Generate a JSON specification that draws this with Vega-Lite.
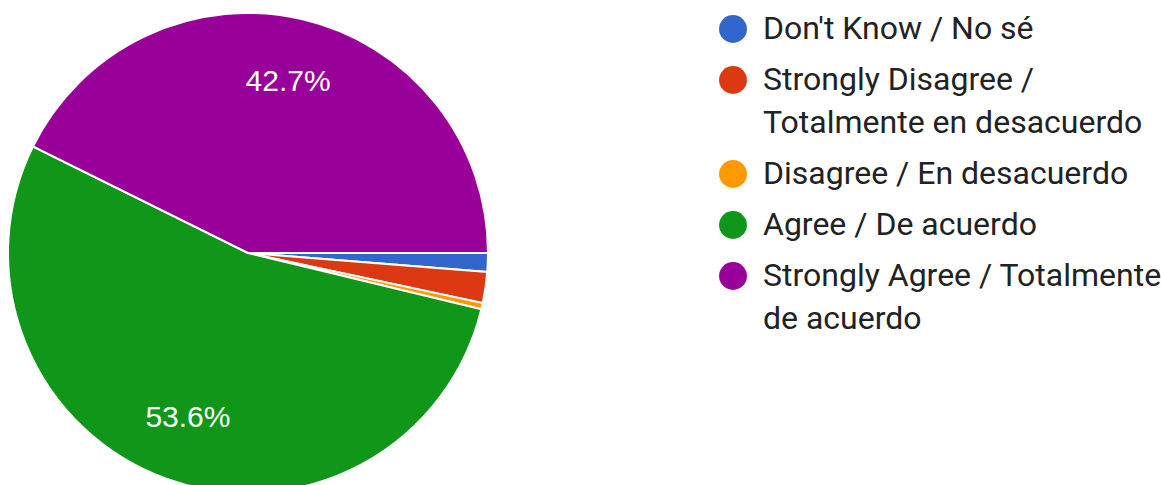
{
  "$schema": "https://vega.github.io/schema/vega-lite/v6.json",
  "width": 496,
  "height": 506,
  "padding": 0,
  "background": "white",
  "autosize": {"type": "pad"},
  "data": {
    "values": [
      {"answer": "Don't Know / No sé", "count": 3, "idx": 0},
      {"answer": "Strongly Disagree / Totalmente en desacuerdo", "count": 5, "idx": 1},
      {"answer": "Disagree / En desacuerdo", "count": 1, "idx": 2},
      {"answer": "Agree / De acuerdo", "count": 128, "idx": 3},
      {"answer": "Strongly Agree / Totalmente de acuerdo", "count": 102, "idx": 4}
    ]
  },
  "transform": [
    {"joinaggregate": [{"op": "sum", "field": "count", "as": "total"}]},
    {"calculate": "datum.count / datum.total >= 0.05 ? format(datum.count / datum.total, '.1%') : ''", "as": "label"}
  ],
  "encoding": {
    "theta": {"field": "count", "type": "quantitative", "stack": true, "scale": {"range": [1.5707963, 7.8539816]}},
    "order": {"field": "idx", "type": "quantitative"}
  },
  "layer": [
    {
      "mark": {"type": "arc", "radius": 240, "stroke": "white", "strokeWidth": 2},
      "encoding": {
        "color": {
          "field": "answer",
          "type": "nominal",
          "scale": {
            "domain": ["Don't Know / No sé", "Strongly Disagree / Totalmente en desacuerdo", "Disagree / En desacuerdo", "Agree / De acuerdo", "Strongly Agree / Totalmente de acuerdo"],
            "range": ["#3366cc", "#dc3912", "#ff9900", "#109618", "#990099"]
          },
          "legend": {
            "title": null,
            "orient": "none",
            "legendX": 717,
            "legendY": 13,
            "padding": 0,
            "symbolType": "circle",
            "symbolSize": 780,
            "symbolStrokeWidth": 0,
            "labelFont": "Roboto",
            "labelFontSize": 32,
            "labelColor": "#222222",
            "labelOffset": 14,
            "labelLimit": 600,
            "labelBaseline": "middle",
            "rowPadding": 19,
            "labelExpr": "datum.label == 'Strongly Disagree / Totalmente en desacuerdo' ? ['Strongly Disagree /', 'Totalmente en desacuerdo'] : datum.label == 'Strongly Agree / Totalmente de acuerdo' ? ['Strongly Agree / Totalmente', 'de acuerdo'] : datum.label"
          }
        }
      }
    },
    {
      "mark": {"type": "text", "radius": 176, "font": "Liberation Sans", "fontSize": 30, "fill": "white", "align": "center", "baseline": "middle"},
      "encoding": {"text": {"field": "label", "type": "nominal"}}
    }
  ],
  "config": {
    "view": {"stroke": null},
    "style": {"guide-label": {"lineHeight": 43}}
  }
}
